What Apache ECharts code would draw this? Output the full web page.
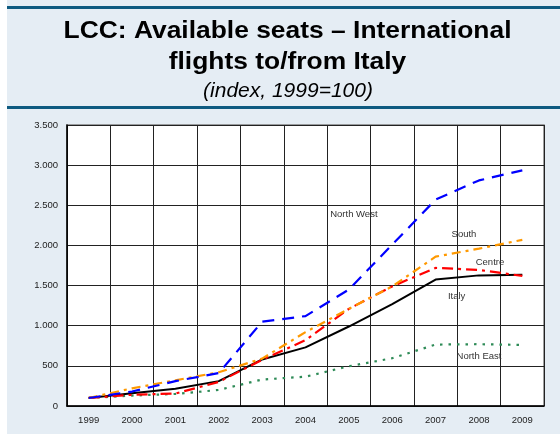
<!DOCTYPE html>
<html>
<head>
<meta charset="utf-8">
<script src="https://cdn.jsdelivr.net/npm/echarts@6/dist/echarts.min.js"></script>
<style>
html,body{margin:0;padding:0;background:#ffffff;}
#c{width:560px;height:434px;}
</style>
</head>
<body>
<div id="c"></div>
<script>
var years = ['1999','2000','2001','2002','2003','2004','2005','2006','2007','2008','2009'];
var northWest = [100, 180, 310, 410, 1050, 1120, 1450, 2010, 2570, 2810, 2935];
var south     = [100, 220, 320, 420, 590, 920, 1210, 1490, 1860, 1960, 2070];
var centre    = [100, 140, 155, 300, 575, 820, 1210, 1490, 1720, 1695, 1620];
var italy     = [100, 160, 215, 310, 580, 730, 990, 1270, 1575, 1627, 1635];
var northEast = [100, 130, 150, 200, 330, 365, 495, 595, 765, 770, 760];
var yTicks = [0, 500, 1000, 1500, 2000, 2500, 3000, 3500];

var chart = echarts.init(document.getElementById('c'), null, {renderer:'canvas'});
var FF = '"Liberation Sans", Arial, sans-serif';
var labelStyle = {color:'#333', fontSize:9.5, fontFamily:FF};
function mk(name, cat, val, dx, dy){
  return {symbol:'rect', symbolSize:0, silent:true, data:[{coord:[cat, val],
    label:{show:true, formatter:name, offset:[dx,dy], color:labelStyle.color, fontSize:labelStyle.fontSize, fontFamily:labelStyle.fontFamily}}]};
}
function line(name, data, color, type, width, mp){
  return {name:name, type:'line', data:data, symbol:'none', smooth:false,
    lineStyle:{color:color, width:width, type:type}, markPoint:mp, z:3};
}
chart.setOption({
  animation:false,
  backgroundColor:'transparent',
  graphic:[
    {type:'rect', shape:{x:7,y:0,width:553,height:434}, style:{fill:'#e5edf4'}, z:-10},
    {type:'rect', shape:{x:7,y:6,width:553,height:3}, style:{fill:'#0d5a80'}, z:-5},
    {type:'rect', shape:{x:7,y:106,width:553,height:3}, style:{fill:'#0d5a80'}, z:-5},
    {type:'text', x:287.5, y:31, scaleX:1.1, style:{text:'LCC: Available seats \u2013 International', font:'bold 24px ' + FF, textAlign:'center', textVerticalAlign:'middle', fill:'#000'}},
    {type:'text', x:287.5, y:62, scaleX:1.1, style:{text:'flights to/from Italy', font:'bold 24px ' + FF, textAlign:'center', textVerticalAlign:'middle', fill:'#000'}},
    {type:'text', x:288, y:91, style:{text:'(index, 1999=100)', font:'italic 21px ' + FF, textAlign:'center', textVerticalAlign:'middle', fill:'#000'}}
  ],
  grid:{left:67, right:16, top:125, bottom:28, show:true, backgroundColor:'#ffffff', borderColor:'#808080', borderWidth:1.5},
  xAxis:{type:'category', data:years, boundaryGap:true,
    axisLine:{show:true, lineStyle:{color:'#000', width:1.5}},
    axisTick:{show:false},
    axisLabel:{color:'#222', fontSize:9.5, fontFamily:FF, margin:9, interval:0},
    splitLine:{show:true, interval:0, lineStyle:{color:'#222', width:1}}},
  yAxis:{type:'value', min:yTicks[0], max:yTicks[yTicks.length-1], interval:500,
    axisLine:{show:true, lineStyle:{color:'#000', width:1.5}},
    axisTick:{show:false},
    axisLabel:{color:'#222', fontSize:9.5, fontFamily:FF, margin:9,
      formatter:function(v){ return String(v).replace(/\B(?=(\d{3})+(?!\d))/g,'.'); }},
    splitLine:{show:true, lineStyle:{color:'#222', width:1}}},
  series:[
    line('North East', northEast, '#2e8b57', [2.5,6], 2.2, mk('North East','2008',770,0,12)),
    line('Italy', italy, '#000000', 'solid', 2, mk('Italy','2007',1575,21,17)),
    line('Centre', centre, '#ff0000', [11,5,3,5], 2.2, mk('Centre','2008',1695,11,-8)),
    line('South', south, '#ff9900', [9,5,3,5], 2.2, mk('South','2008',1960,-15,-14)),
    line('North West', northWest, '#0000ff', [12,8], 2.2, mk('North West','2005',2390,5,0))
  ]
});
</script>
</body>
</html>
